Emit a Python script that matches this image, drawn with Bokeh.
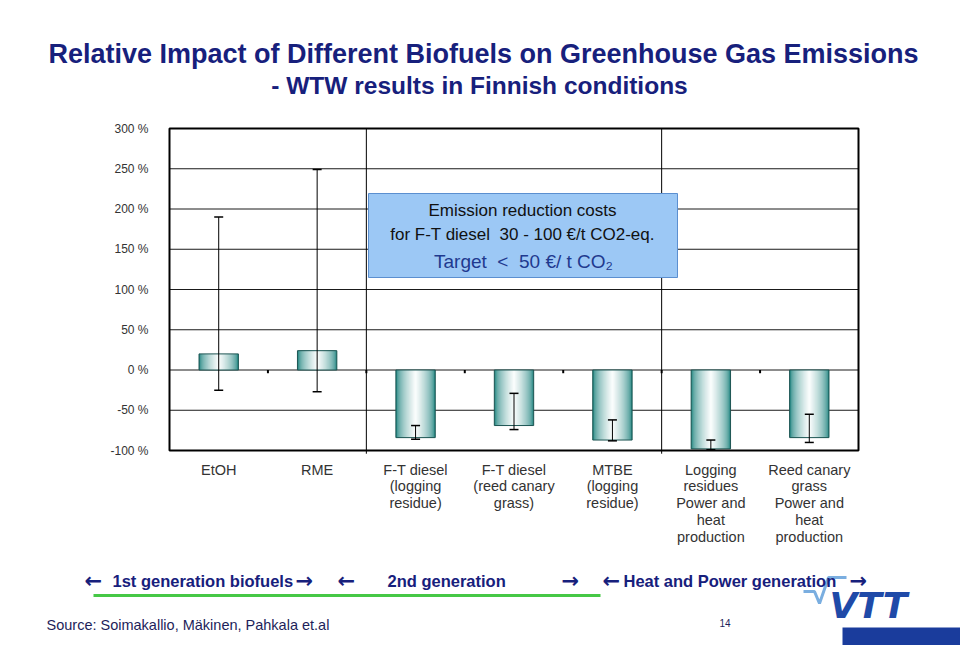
import numpy as np
from bokeh.plotting import figure
from bokeh.models import (ColumnDataSource, Range1d, FixedTicker, Label, LinearAxis,
                          BoxAnnotation, Whisker, TeeHead)
from bokeh.embed import file_html
from bokeh.resources import INLINE

# ---------------- data ----------------
categories = ["EtOH", "RME", "F-T diesel\n(logging\nresidue)", "F-T diesel\n(reed canary\ngrass)",
              "MTBE\n(logging\nresidue)", "Logging\nresidues\nPower and\nheat\nproduction",
              "Reed canary\ngrass\nPower and\nheat\nproduction"]
values = [20, 24, -84, -69, -87, -98, -84]
err_high = [190, 249, -69, -29, -62, -87, -55]
err_low = [-25, -27, -86, -74, -88, -99, -90]
group_sizes = [2, 3, 2]
group_names = ["1st generation biofuels", "2nd generation", "Heat and Power generation"]
y_ticks = [-100, -50, 0, 50, 100, 150, 200, 250, 300]
y_tick_labels = [f"{t} %" for t in y_ticks]

# ---------------- layout (pixels of the 960x645 page) ----------------
W, H = 960, 645
CL, CR, CT, CB = 169, 858, 128, 450          # chart area edges
YMIN, YMAX = y_ticks[0], y_ticks[-1]
ncat = len(categories)
px_slot = (CR - CL) / ncat
px_pct = (CB - CT) / (YMAX - YMIN)
x_range = Range1d(-CL / px_slot, (W - CL) / px_slot)
y_range = Range1d(YMIN - (H - CB) / px_pct, YMAX + CT / px_pct)

navy = "#17207c"
FONT = "Liberation Sans"

p = figure(width=W, height=H, x_range=x_range, y_range=y_range, title=None,
           x_axis_location=None, y_axis_location=None, min_border=0,
           min_border_left=0, min_border_right=0, min_border_top=0, min_border_bottom=0,
           output_backend="svg", toolbar_location=None,
           background_fill_color="white", border_fill_color="white")
p.grid.grid_line_color = None
p.outline_line_color = None

centers = [i + 0.5 for i in range(ncat)]

# y axis (fixed at the chart's left edge)
yax = LinearAxis(fixed_location=0, bounds=(YMIN, YMAX), ticker=FixedTicker(ticks=y_ticks))
yax.major_label_overrides = {t: l for t, l in zip(y_ticks, y_tick_labels)}
yax.axis_line_color = None
yax.major_tick_line_color = None
yax.minor_tick_line_color = None
yax.major_label_standoff = 15
yax.major_label_text_font = FONT
yax.major_label_text_font_size = "12px"
yax.major_label_text_color = "#333333"
p.add_layout(yax, "left")

# x axis (fixed at the chart's bottom edge)
xax = LinearAxis(fixed_location=YMIN, bounds=(0, ncat), ticker=FixedTicker(ticks=centers))
xax.major_label_overrides = {c: l for c, l in zip(centers, categories)}
xax.axis_line_color = None
xax.major_tick_line_color = None
xax.minor_tick_line_color = None
xax.major_label_standoff = 5
xax.major_label_text_font = FONT
xax.major_label_text_font_size = "14.5px"
xax.major_label_text_line_height = 1.05
xax.major_label_text_color = "#333333"
xax.major_label_orientation = "horizontal"
p.add_layout(xax, "below")

# horizontal grid lines
p.segment(x0=0, x1=ncat, y0=y_ticks, y1=y_ticks, line_color="#1a1a1a", line_width=1)

# group boundary lines
bounds = [float(b) for b in np.cumsum(group_sizes)[:-1]]
p.segment(x0=bounds, x1=bounds, y0=YMIN - 4, y1=YMAX, line_color="black", line_width=1)

# small ticks on the zero line at category boundaries
tb = [float(i) for i in range(1, ncat)]
p.segment(x0=tb, x1=tb, y0=0, y1=-4, line_color="black", line_width=2)

# gradient bars (cylinder look): nested bars, outer teal -> inner white
src = ColumnDataSource(dict(x=centers, val=values, hi=err_high, lo=err_low))
teal = np.array([28, 130, 125])
white = np.array([255, 255, 255])
N = 22
bw = 0.4
for k in range(N):
    frac = 1 - k / N
    s = (1 - frac) ** 0.55
    c = teal * (1 - s) + white * s
    col = "#%02x%02x%02x" % tuple(int(round(v)) for v in c)
    p.vbar(x="x", top="val", bottom=0, width=bw * frac, source=src,
           fill_color=col, line_color=None)
p.vbar(x="x", top="val", bottom=0, width=bw, source=src, fill_alpha=0,
       line_color="#1d5553", line_width=1)

# chart frame
p.quad(left=0, right=ncat, bottom=YMIN, top=YMAX, fill_color=None,
       line_color="black", line_width=2)

# error bars
p.add_layout(Whisker(base="x", upper="hi", lower="lo", source=src, dimension="height",
                     line_color="black", line_width=1, level="overlay",
                     upper_head=TeeHead(size=9, line_color="black", line_width=1.5),
                     lower_head=TeeHead(size=9, line_color="black", line_width=1.5)))


def lbl(text, x, y, size, color="black", style="normal", align="center", font=FONT):
    p.add_layout(Label(x=x, y=H - y, x_units="screen", y_units="screen", text=text,
                       text_font=font, text_font_size=f"{size}px", text_color=color,
                       text_font_style=style, text_align=align, text_baseline="middle"))


# text box
p.add_layout(BoxAnnotation(left=368, right=677, left_units="screen", right_units="screen",
                           top=H - 193, bottom=H - 277, top_units="screen", bottom_units="screen",
                           fill_color="#9cc8f5", fill_alpha=1, line_color="#5b8fd0", line_width=1,
                           line_alpha=1))
NB = "\u00a0"
lbl("Emission reduction costs", 522, 210, 17, "#111111")
lbl(f"for F-T diesel {NB}30 - 100 €/t CO2-eq.", 522, 234, 17, "#111111")
lbl(f"Target {NB}< {NB}50 €/ t CO₂", 523, 261, 19, "#1f3a8f")

# titles
lbl("Relative Impact of Different Biofuels on Greenhouse Gas Emissions", 483, 53, 27, navy, "bold")
lbl("- WTW results in Finnish conditions", 479, 85, 24.5, navy, "bold")

# generation bands
AF = "DejaVu Sans"
AS = 21
lbl("←", 84, 580, AS, navy, "bold", "left", AF)
lbl(group_names[0], 112, 580, 16.5, navy, "bold", "left")
lbl("→", 295, 580, AS, navy, "bold", "left", AF)
lbl("←", 337, 580, AS, navy, "bold", "left", AF)
lbl(group_names[1], 387, 580, 16.5, navy, "bold", "left")
lbl("→", 561, 580, AS, navy, "bold", "left", AF)
lbl("←", 602, 580, AS, navy, "bold", "left", AF)
lbl(group_names[2], 623, 580, 16.5, navy, "bold", "left")
lbl("→", 849, 580, AS, navy, "bold", "left", AF)
p.add_layout(BoxAnnotation(left=93, right=600, left_units="screen", right_units="screen",
                           top=H - 593.5, bottom=H - 596.5, top_units="screen", bottom_units="screen",
                           fill_color="#46c846", fill_alpha=1, line_color=None))

# footer
lbl("Source:  Soimakallio, Mäkinen, Pahkala et.al", 46, 624, 14.5, "#1e1e5a", "normal", "left")
lbl("14", 719, 622, 10, "#1e1e5a", "normal", "left")

# VTT logo (drawn in page pixels converted to data space)
def dx(px):
    return (px - CL) / px_slot
def dy(py):
    return YMAX + (CT - py) / px_pct

lx = [803, 814, 819, 828, 846]
ly = [591, 591, 603, 577, 577]
p.line(x=[dx(v) for v in lx], y=[dy(v) for v in ly], line_color="#7aaee0", line_width=3)
lbl("VTT", 829, 605, 36, "#1f4aa8", "bold italic", "left", "DejaVu Sans")
p.add_layout(BoxAnnotation(left=842, right=960, left_units="screen", right_units="screen",
                           top=H - 627, bottom=H - 645, top_units="screen", bottom_units="screen",
                           fill_color="#1a3c9c", fill_alpha=1, line_color=None))

open("out.html", "w").write(file_html(p, INLINE))
